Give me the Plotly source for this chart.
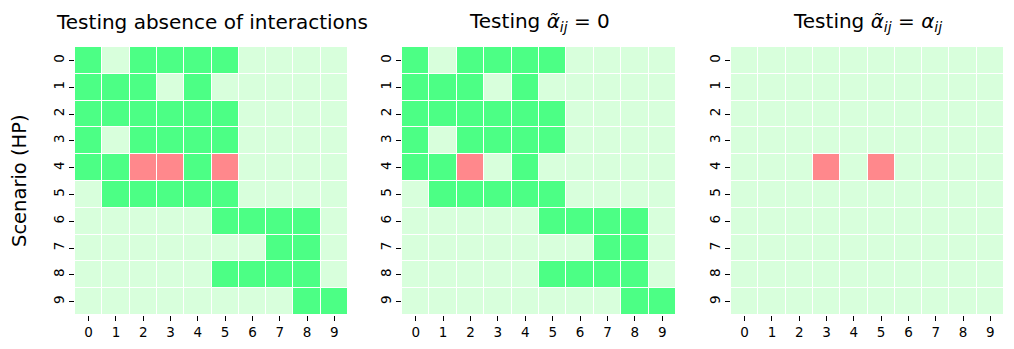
import plotly.graph_objects as go

# 0 = not rejected (light), 1 = correctly detected (green), 2 = wrong (red)
scenarios = list(range(10))
components = list(range(10))

absence = [
    [1, 0, 1, 1, 1, 1, 0, 0, 0, 0],
    [1, 1, 1, 0, 1, 0, 0, 0, 0, 0],
    [1, 1, 1, 1, 1, 1, 0, 0, 0, 0],
    [1, 0, 1, 1, 1, 1, 0, 0, 0, 0],
    [1, 1, 2, 2, 1, 2, 0, 0, 0, 0],
    [0, 1, 1, 1, 1, 1, 0, 0, 0, 0],
    [0, 0, 0, 0, 0, 1, 1, 1, 1, 0],
    [0, 0, 0, 0, 0, 0, 0, 1, 1, 0],
    [0, 0, 0, 0, 0, 1, 1, 1, 1, 0],
    [0, 0, 0, 0, 0, 0, 0, 0, 1, 1],
]
alpha_zero = [
    [1, 0, 1, 1, 1, 1, 0, 0, 0, 0],
    [1, 1, 1, 0, 1, 0, 0, 0, 0, 0],
    [1, 1, 1, 1, 1, 1, 0, 0, 0, 0],
    [1, 0, 1, 1, 1, 1, 0, 0, 0, 0],
    [1, 1, 2, 0, 1, 0, 0, 0, 0, 0],
    [0, 1, 1, 1, 1, 1, 0, 0, 0, 0],
    [0, 0, 0, 0, 0, 1, 1, 1, 1, 0],
    [0, 0, 0, 0, 0, 0, 0, 1, 1, 0],
    [0, 0, 0, 0, 0, 1, 1, 1, 1, 0],
    [0, 0, 0, 0, 0, 0, 0, 0, 1, 1],
]
alpha_equal = [
    [0, 0, 0, 0, 0, 0, 0, 0, 0, 0],
    [0, 0, 0, 0, 0, 0, 0, 0, 0, 0],
    [0, 0, 0, 0, 0, 0, 0, 0, 0, 0],
    [0, 0, 0, 0, 0, 0, 0, 0, 0, 0],
    [0, 0, 0, 2, 0, 2, 0, 0, 0, 0],
    [0, 0, 0, 0, 0, 0, 0, 0, 0, 0],
    [0, 0, 0, 0, 0, 0, 0, 0, 0, 0],
    [0, 0, 0, 0, 0, 0, 0, 0, 0, 0],
    [0, 0, 0, 0, 0, 0, 0, 0, 0, 0],
    [0, 0, 0, 0, 0, 0, 0, 0, 0, 0],
]
titles = [
    "Testing absence of interactions",
    "Testing <i>α̃</i><sub><i>ij</i></sub> = 0",
    "Testing <i>α̃</i><sub><i>ij</i></sub> = <i>α</i><sub><i>ij</i></sub>",
]

# page body has an 8px margin, so the figure is drawn 8px in from the window edge
OFF = 8
W, H = 1014 - 2 * OFF, 349 - 2 * OFF
colorscale = [[0, "#d8ffdc"], [0.5, "#4cff85"], [1, "#ff888c"]]
panels_px = [(75, 348), (402, 676), (731, 1004)]
top, bottom = 47, 315


def px_x(v):
    return (v - OFF) / W


def px_y(v):
    return 1 - (v - OFF) / H


fig = go.Figure()
for i, z in enumerate([absence, alpha_zero, alpha_equal]):
    n = "" if i == 0 else str(i + 1)
    fig.add_trace(go.Heatmap(
        z=z, x=components, y=scenarios, xaxis="x" + n, yaxis="y" + n,
        colorscale=colorscale, zmin=0, zmax=2, showscale=False,
        xgap=1, ygap=1, hoverinfo="skip",
    ))
    x0, x1 = panels_px[i]
    axfont = dict(family="DejaVu Sans", size=13.5, color="black")
    fig.update_layout(**{
        "xaxis" + n: dict(domain=[px_x(x0), px_x(x1)], anchor="y" + n,
                          tickmode="array", tickvals=components,
                          ticks="outside", ticklen=5, tickcolor="black",
                          showgrid=False, zeroline=False, showline=False,
                          automargin=False, tickfont=axfont),
        "yaxis" + n: dict(domain=[px_y(bottom), px_y(top)], anchor="x" + n,
                          autorange="reversed", tickmode="array",
                          tickvals=scenarios, tickangle=-90,
                          ticks="outside", ticklen=5, tickcolor="black",
                          showgrid=False, zeroline=False, showline=False,
                          automargin=False, tickfont=axfont),
    })
    fig.add_annotation(text=titles[i], x=px_x((x0 + x1) / 2), y=px_y(22),
                       xref="paper", yref="paper", showarrow=False,
                       xanchor="center", yanchor="middle",
                       font=dict(family="DejaVu Sans", size=20, color="black"))

fig.add_annotation(text="Scenario (HP)", x=px_x(20), y=px_y(181),
                   xref="paper", yref="paper", showarrow=False, textangle=-90,
                   xanchor="center", yanchor="middle",
                   font=dict(family="DejaVu Sans", size=19.5, color="black"))

fig.update_layout(width=W, height=H, margin=dict(l=0, r=0, t=0, b=0),
                  paper_bgcolor="white", plot_bgcolor="white")
fig.write_html("out.html")
